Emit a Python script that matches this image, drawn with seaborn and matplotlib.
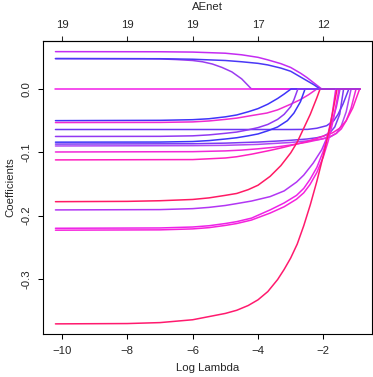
import numpy as np
import pandas as pd
import matplotlib
matplotlib.use("Agg")
import matplotlib.pyplot as plt
import seaborn as sns

# --- Koeffizientenpfade, x = log(lambda) ---
coef_x = {
    "V02": [-10.2, -7.5, -7, -6.5, -6, -5.7, -5.4, -5.1, -4.8, -4.5, -4.2, -0.89],
    "V04": [-10.2, -0.89],
    "V01": [-10.2, -7, -6, -5, -4.5, -4.0, -3.7, -3.3, -3.0, -2.7, -2.5, -2.3, -2.05, -0.89],
    "V03": [-10.2, -7, -6, -5, -4.5, -4.0, -3.7, -3.3, -3.0, -2.7, -2.5, -2.3, -2.1, -0.89],
    "V05": [-10.2, -7, -6, -5.5, -5, -4.65, -4.3, -4.0, -3.7, -3.4, -3.2, -2.99, -0.89],
    "V06": [-10.2, -7, -6, -5.5, -5, -4.65, -4.2, -3.73, -3.4, -3.0, -2.71, -2.45, -2.2, -0.89],
    "V07": [-10.2, -3.0, -2.48, -2.2, -1.9, -1.68, -1.55, -1.4, -1.22, -0.89],
    "V09": [-10.2, -7, -6, -5.5, -5, -4.65, -4.3, -4.0, -3.7, -3.4, -3.1, -2.9, -2.7, -2.56, -0.89],
    "V10": [-10.2, -6, -5, -4, -3.5, -3, -2.5, -2.2, -2.0, -1.8, -1.65, -1.5, -1.38, -0.89],
    "V11": [-10.2, -6, -5, -4, -3.5, -3, -2.5, -2.1, -1.8, -1.6, -1.45, -1.3, -1.15, -0.89],
    "V12": [-10.2, -6, -5, -4.5, -4, -3.5, -3, -2.5, -2.0, -1.8, -1.6, -1.45, -1.3, -1.15, -1.0, -0.89],
    "V13": [-10.2, -6, -5, -4.65, -4.2, -3.63, -3.2, -2.82, -2.5, -2.2, -1.95, -1.71, -1.5, -1.3, -1.1, -0.89],
    "V14": [-10.2, -8, -7, -6, -5.5, -5.0, -4.65, -4.3, -4.0, -3.63, -3.3, -3.0, -2.8, -2.6, -2.4, -2.2, -2.1, -0.89],
    "V15": [-10.2, -7, -6, -5.5, -5, -4.65, -4.2, -3.63, -3.2, -2.82, -2.6, -2.31, -2.05, -1.9, -1.75, -1.6, -1.49, -0.89],
    "V16": [-10.2, -7, -6, -5.5, -5, -4.65, -4.2, -3.63, -3.2, -2.82, -2.6, -2.41, -2.2, -2.0, -1.85, -1.73, -1.62, -0.89],
    "V17": [-10.2, -7, -6, -5.5, -5, -4.65, -4.2, -3.63, -3.2, -2.82, -2.6, -2.41, -2.2, -2.0, -1.85, -1.7, -1.52, -0.89],
    "V18": [-10.2, -8, -7, -6, -5.5, -5, -4.65, -4.3, -4.0, -3.7, -3.4, -3.2, -3.0, -2.8, -2.6, -2.4, -2.2, -2.0, -1.8, -1.58, -0.89],
    "V08": [-10.2, -7, -6, -5.5, -5, -4.65, -4.3, -4.0, -3.7, -3.4, -3.2, -3.0, -2.9, -2.78, -0.89],
}
coef_y = {
    "V02": [0.048, 0.0478, 0.0475, 0.0465, 0.045, 0.043, 0.0395, 0.034, 0.027, 0.016, 0.0, 0.0],
    "V04": [0.0, 0.0],
    "V01": [0.059, 0.0588, 0.0583, 0.0565, 0.054, 0.050, 0.046, 0.040, 0.034, 0.025, 0.018, 0.010, 0.0, 0.0],
    "V03": [0.048, 0.0478, 0.047, 0.045, 0.043, 0.0405, 0.038, 0.033, 0.028, 0.019, 0.013, 0.007, 0.0, 0.0],
    "V05": [-0.050, -0.0495, -0.0485, -0.047, -0.044, -0.041, -0.036, -0.031, -0.024, -0.015, -0.008, 0.0, 0.0],
    "V06": [-0.053, -0.0528, -0.052, -0.0505, -0.048, -0.046, -0.042, -0.038, -0.033, -0.024, -0.017, -0.009, 0.0, 0.0],
    "V07": [-0.064, -0.064, -0.0638, -0.062, -0.058, -0.050, -0.040, -0.024, 0.0, 0.0],
    "V09": [-0.084, -0.0838, -0.083, -0.0815, -0.079, -0.077, -0.074, -0.071, -0.066, -0.060, -0.050, -0.038, -0.020, 0.0, 0.0],
    "V10": [-0.087, -0.0865, -0.0855, -0.0838, -0.0825, -0.081, -0.079, -0.077, -0.0745, -0.069, -0.060, -0.040, 0.0, 0.0],
    "V11": [-0.090, -0.0895, -0.089, -0.0875, -0.086, -0.0845, -0.082, -0.0795, -0.076, -0.070, -0.058, -0.036, 0.0, 0.0],
    "V12": [-0.0995, -0.099, -0.0978, -0.0965, -0.0945, -0.092, -0.0885, -0.084, -0.0785, -0.0755, -0.070, -0.063, -0.050, -0.030, 0.0, 0.0],
    "V13": [-0.112, -0.1115, -0.109, -0.107, -0.103, -0.097, -0.092, -0.087, -0.083, -0.078, -0.0735, -0.069, -0.062, -0.050, -0.030, 0.0],
    "V14": [-0.178, -0.1775, -0.1765, -0.1745, -0.172, -0.168, -0.165, -0.159, -0.152, -0.138, -0.121, -0.101, -0.084, -0.062, -0.040, -0.014, 0.0, 0.0],
    "V15": [-0.191, -0.1905, -0.189, -0.187, -0.184, -0.181, -0.177, -0.170, -0.161, -0.147, -0.136, -0.117, -0.096, -0.078, -0.055, -0.028, 0.0, 0.0],
    "V16": [-0.220, -0.2195, -0.218, -0.216, -0.2125, -0.2095, -0.204, -0.191, -0.180, -0.168, -0.157, -0.143, -0.124, -0.098, -0.070, -0.040, 0.0, 0.0],
    "V17": [-0.223, -0.2225, -0.221, -0.219, -0.2155, -0.2125, -0.207, -0.196, -0.186, -0.174, -0.164, -0.151, -0.132, -0.107, -0.082, -0.050, 0.0, 0.0],
    "V18": [-0.371, -0.3705, -0.369, -0.3645, -0.3595, -0.3545, -0.3495, -0.342, -0.333, -0.320, -0.301, -0.285, -0.267, -0.245, -0.216, -0.183, -0.146, -0.105, -0.060, 0.0, 0.0],
    "V08": [-0.075, -0.0748, -0.074, -0.0725, -0.070, -0.068, -0.0645, -0.061, -0.056, -0.048, -0.040, -0.028, -0.017, 0.0, 0.0],
}
line_colors = {
    "V02": "#9a3cf0", "V04": "#f21ee8", "V01": "#c42cf2", "V03": "#4a38f6",
    "V05": "#3f34fa", "V06": "#f02ad0", "V07": "#6a38f4", "V08": "#9238f2",
    "V09": "#3c34f8", "V10": "#7a3af2", "V11": "#b048f4", "V12": "#f028d8",
    "V13": "#ff20c0", "V14": "#ff1a64", "V15": "#b236f4", "V16": "#ee22e8",
    "V17": "#f622dc", "V18": "#ff1a6e",
}
bottom_ticks = [-10, -8, -6, -4, -2]
top_labels = ["19", "19", "19", "17", "12"]
y_ticks = [-0.3, -0.2, -0.1, 0.0]

# Long-Format fuer seaborn
rows = []
for name in coef_x:
    for xv, yv in zip(coef_x[name], coef_y[name]):
        rows.append((name, xv, yv))
df = pd.DataFrame(rows, columns=["var", "log_lambda", "coef"])

sns.set_style("white")
plt.rcParams["font.family"] = ["Liberation Sans", "DejaVu Sans"]

W, H = 373, 377
fig = plt.figure(figsize=(W / 100, H / 100), dpi=100)
left, right, top, bottom = 43.3, 371.7, 41, 334
ax = fig.add_axes([left / W, 1 - bottom / H, (right - left) / W, (bottom - top) / H])

# Reihenfolge = Zeichenreihenfolge (letzte Linie liegt auf der Nulllinie oben)
sns.lineplot(data=df, x="log_lambda", y="coef", hue="var", hue_order=list(coef_x),
             palette=line_colors, estimator=None, legend=False, linewidth=1.1, ax=ax)

ax.set_xlim(-10.572, -0.52)
ax.set_ylim(-0.387, 0.0758)
ax.set_xticks(bottom_ticks)
ax.set_yticks(y_ticks)
ax.set_yticklabels([f"{v:.1f}" for v in y_ticks], rotation=90, va="center")

for sp in ax.spines.values():
    sp.set_color("black")
    sp.set_linewidth(0.8)
ax.tick_params(axis="both", direction="out", length=3.6, width=0.75, color="black",
               labelsize=8.2, pad=5, left=True, bottom=True)

secax = ax.secondary_xaxis("top")
secax.set_xticks(bottom_ticks, labels=top_labels)
secax.tick_params(direction="out", length=3.6, width=0.75, labelsize=8.2, pad=4)
secax.spines["top"].set_linewidth(0.8)

ax.set_xlabel("Log Lambda", fontsize=8.2)
ax.xaxis.set_label_coords(0.5, (bottom - 368) / (bottom - top))
ax.xaxis.label.set_va("center")
ax.set_ylabel("Coefficients", fontsize=8.2)
ax.yaxis.set_label_coords((10 - left) / (right - left), 0.5)
ax.yaxis.label.set_va("center")
ax.text(0.5, (bottom - 6.5) / (bottom - top), "AEnet", transform=ax.transAxes,
        ha="center", va="center", fontsize=8.2)

fig.savefig("out.png", dpi=100)
